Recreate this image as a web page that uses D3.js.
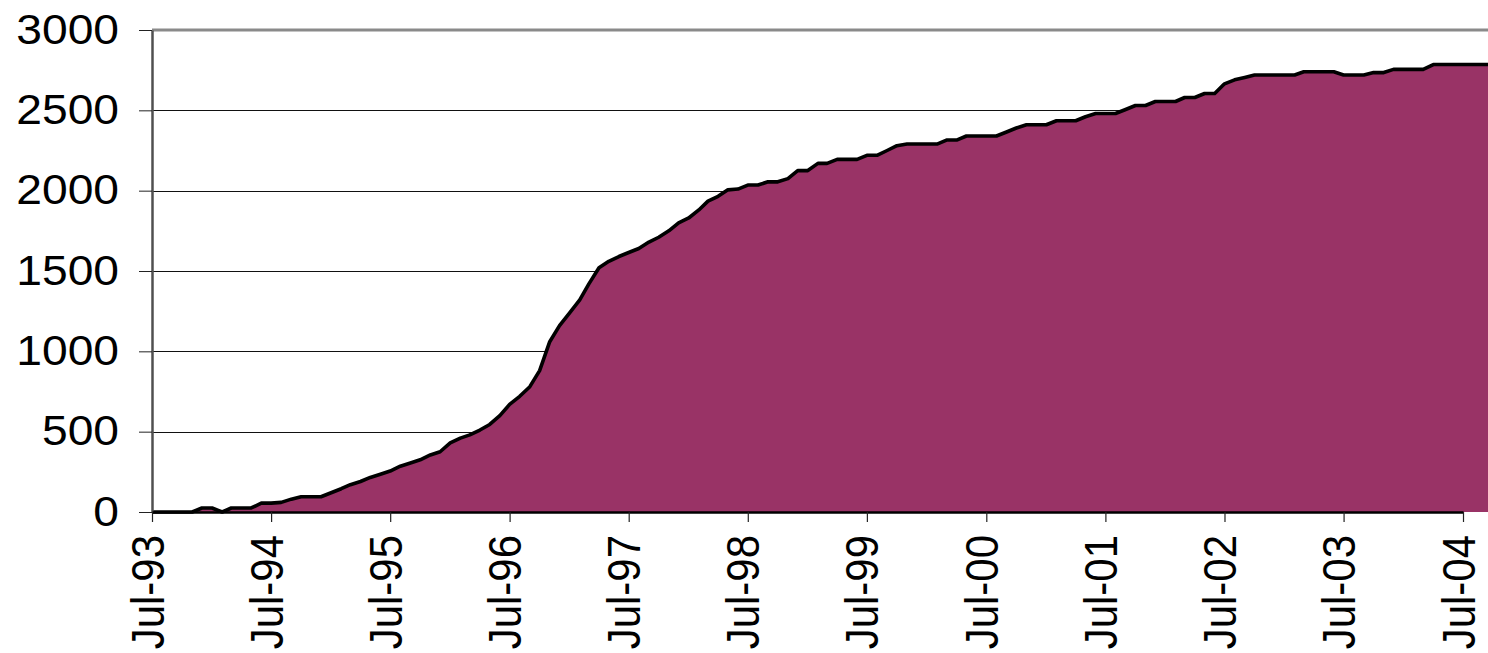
<!DOCTYPE html>
<html>
<head>
<meta charset="utf-8">
<script src="https://cdn.jsdelivr.net/npm/d3@7"></script>
<style>
  html, body { margin: 0; padding: 0; background: #ffffff; overflow: hidden; }
  svg { display: block; }
  text { font-family: "Liberation Sans", Arial, sans-serif; }
</style>
</head>
<body>
<svg id="chart" width="1488" height="653"></svg>
<script>
// ---- data (monthly, starting Jul-1993) ----
const startMonth = "1993-07";
const values = [
  0, 0, 0, 0, 0, 25, 25, 0, 25, 25, 25, 55,
  55, 60, 80, 95, 95, 95, 120, 145, 170, 190, 215, 235,
  255, 285, 305, 325, 355, 375, 430, 460, 480, 510, 545, 600,
  670, 720, 780, 880, 1060, 1160, 1240, 1320, 1420, 1520, 1560, 1590,
  1615, 1640, 1680, 1710, 1750, 1800, 1830, 1880, 1935, 1965, 2005, 2010,
  2035, 2035, 2055, 2055, 2075, 2125, 2125, 2170, 2170, 2195, 2195, 2195,
  2220, 2220, 2250, 2280, 2290, 2290, 2290, 2290, 2315, 2315, 2340, 2340,
  2340, 2340, 2365, 2390, 2410, 2410, 2410, 2435, 2435, 2435, 2460, 2480,
  2480, 2480, 2505, 2530, 2530, 2555, 2555, 2555, 2580, 2580, 2605, 2605,
  2665, 2690, 2705, 2720, 2720, 2720, 2720, 2720, 2740, 2740, 2740, 2740,
  2720, 2720, 2720, 2735, 2735, 2755, 2755, 2755, 2755, 2785, 2785, 2785,
  2785, 2785, 2785, 2785
];
const xTickLabels = ["Jul-93","Jul-94","Jul-95","Jul-96","Jul-97","Jul-98",
                     "Jul-99","Jul-00","Jul-01","Jul-02","Jul-03","Jul-04"];
const yTickValues = [0, 500, 1000, 1500, 2000, 2500, 3000];

// ---- build ----
(function () {
const parseMonth = d3.timeParse("%Y-%m");
const parseTick = d3.timeParse("%b-%y");
const start = parseMonth(startMonth);
const data = values.map((v, i) => ({ date: d3.timeMonth.offset(start, i), v }));
const tickDates = xTickLabels.map(parseTick);

const svg = d3.select("#chart");
const plotLeft = 152, plotBottom = 512, plotTop = 30;

const x = d3.scaleTime()
  .domain([tickDates[0], tickDates[tickDates.length - 1]])
  .range([plotLeft, 1463]);
const y = d3.scaleLinear().domain([0, 3000]).range([plotBottom, plotTop]);

// gridlines
svg.append("g")
  .selectAll("line")
  .data(yTickValues.filter(v => v > 0 && v < 3000))
  .join("line")
  .attr("x1", plotLeft).attr("x2", 1488)
  .attr("y1", d => Math.round(y(d)) + 0.5).attr("y2", d => Math.round(y(d)) + 0.5)
  .attr("stroke", "#111").attr("stroke-width", 1);

// area
const area = d3.area()
  .x(d => x(d.date))
  .y0(y(0))
  .y1(d => y(d.v));
svg.append("path")
  .datum(data)
  .attr("d", area)
  .attr("fill", "#993366");

const line = d3.line()
  .x(d => x(d.date))
  .y(d => y(d.v));
svg.append("path")
  .datum(data)
  .attr("d", line)
  .attr("fill", "none")
  .attr("stroke", "#000")
  .attr("stroke-width", 3.6)
  .attr("stroke-linejoin", "round");

// top border
svg.append("line")
  .attr("x1", plotLeft).attr("x2", 1488)
  .attr("y1", plotTop).attr("y2", plotTop)
  .attr("stroke", "#8a8a8a").attr("stroke-width", 3);

// y axis
const yAxis = svg.append("g")
  .attr("transform", `translate(${plotLeft},0)`)
  .call(d3.axisLeft(y).tickValues(yTickValues).tickSize(13).tickSizeOuter(0).tickFormat(d3.format("d")));
yAxis.select(".domain").attr("stroke", "#505050").attr("stroke-width", 2.5);
yAxis.selectAll(".tick line").attr("stroke", "#222").attr("stroke-width", 1);
yAxis.selectAll(".tick text")
  .attr("x", null).attr("dy", null)
  .attr("text-anchor", "end")
  .attr("transform", "translate(-33,13) scale(1.1,1)")
  .attr("fill", "#000")
  .style("font-size", "42px");

// x axis
const xAxis = svg.append("g")
  .attr("transform", `translate(0,${plotBottom})`)
  .call(d3.axisBottom(x).tickValues(tickDates).tickSize(10).tickSizeOuter(0)
        .tickFormat((d, i) => xTickLabels[i]));
xAxis.select(".domain").attr("stroke", "#000").attr("stroke-width", 2.5);
xAxis.selectAll(".tick line").attr("stroke", "#222").attr("stroke-width", 1.2);
xAxis.selectAll(".tick text")
  .attr("y", null).attr("dy", null)
  .attr("text-anchor", "end")
  .attr("transform", "translate(11,23) scale(1.1,1) rotate(-90)")
  .attr("fill", "#000")
  .style("font-size", "42px");
})();
</script>
</body>
</html>
